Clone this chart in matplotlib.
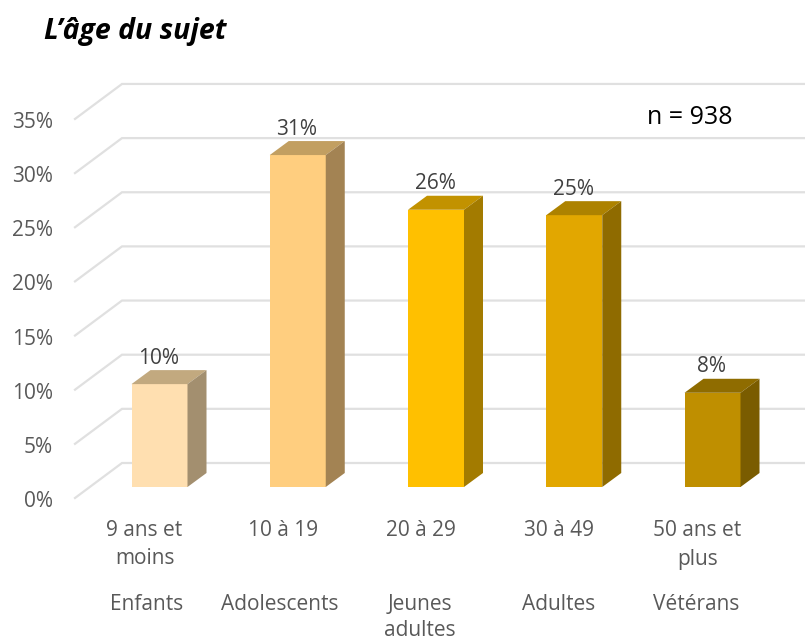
import matplotlib
matplotlib.use('Agg')
import matplotlib.pyplot as plt

plt.rcParams['font.family'] = ['Open Sans', 'DejaVu Sans']

ticks = [0, 5, 10, 15, 20, 25, 30, 35]
ages = ['9 ans et\nmoins', '10 à 19', '20 à 29', '30 à 49', '50 ans et\nplus']
groups = ['Enfants', 'Adolescents', 'Jeunes\nadultes', 'Adultes', 'Vétérans']
values = [9.5, 30.65, 25.6, 25.1, 8.7]
labels = ['10%', '31%', '26%', '25%', '8%']

front = ['#FFDFB0', '#FFCE7F', '#FFC000', '#E2A700', '#BF8F00']
top = ['#C2A97F', '#C29F61', '#C29200', '#AD8200', '#8F6C00']
side = ['#A38F6F', '#A38353', '#A37B00', '#8F6B00', '#7A5C00']

# pixels -> data: one category = 138.25 px, 1% = 10.83 px
xpx = 138.25
ypx = 10.83
depth_x = 19 / xpx
depth_y = 14 / ypx
bar_w = 56 / xpx
group_shift = [-12.5, -18, -16, -16, -16]

fig = plt.figure(figsize=(8.05, 6.42), dpi=100)
ax = fig.add_axes([0, 0, 1, 1])
ax.set_xlim(-159.5 / xpx, (805 - 159.5) / xpx)
ax.set_ylim(-(642 - 487) / ypx, 487 / ypx)
ax.axis('off')

# grille (mur du fond + plancher en biais)
x_a, x_b, x_c = (75 - 159.5) / xpx, (122 - 159.5) / xpx, (805 - 159.5) / xpx
for t in ticks:
    ax.plot([x_a, x_b, x_c], [t - 11 / ypx, t + 24 / ypx, t + 24 / ypx],
            color='#E0E0E0', lw=1.6, zorder=1, solid_joinstyle='miter')
    ax.text(x_a - 22 / xpx, t - 14.5 / ypx, str(t) + '%', ha='right', va='center',
            fontsize=15, color='#595959')

for i, v in enumerate(values):
    l = i - bar_w / 2
    r = i + bar_w / 2
    ax.bar(i, v, width=bar_w, color=front[i], zorder=3)
    ax.fill([l, r, r + depth_x, l + depth_x], [v, v, v + depth_y, v + depth_y],
            color=top[i], lw=0, zorder=3)
    ax.fill([r, r + depth_x, r + depth_x, r], [0, depth_y, v + depth_y, v],
            color=side[i], lw=0, zorder=3)
    ax.text(i - 1 / xpx, v + 26 / ypx, labels[i], ha='center', va='center',
            fontsize=15, color='#404040', zorder=4)
    # une ligne a la fois
    for k, line in enumerate(ages[i].split('\n')):
        ax.text(i - 15 / xpx, -(43 + 29 * k) / ypx, line, ha='center', va='center',
                fontsize=15, color='#595959')
    for k, line in enumerate(groups[i].split('\n')):
        ax.text(i + group_shift[i] / xpx, -(118 + 26 * k) / ypx, line, ha='center', va='center',
                fontsize=15, color='#595959')

fig.text(44 / 805, 1 - 32 / 642, 'L’âge du sujet', fontsize=20.5, fontweight='bold',
         fontstyle='italic', color='black', va='center')
fig.text(647 / 805, 1 - 117 / 642, 'n = 938', fontsize=18, color='black', va='center')

fig.savefig('out.png', dpi=100)
